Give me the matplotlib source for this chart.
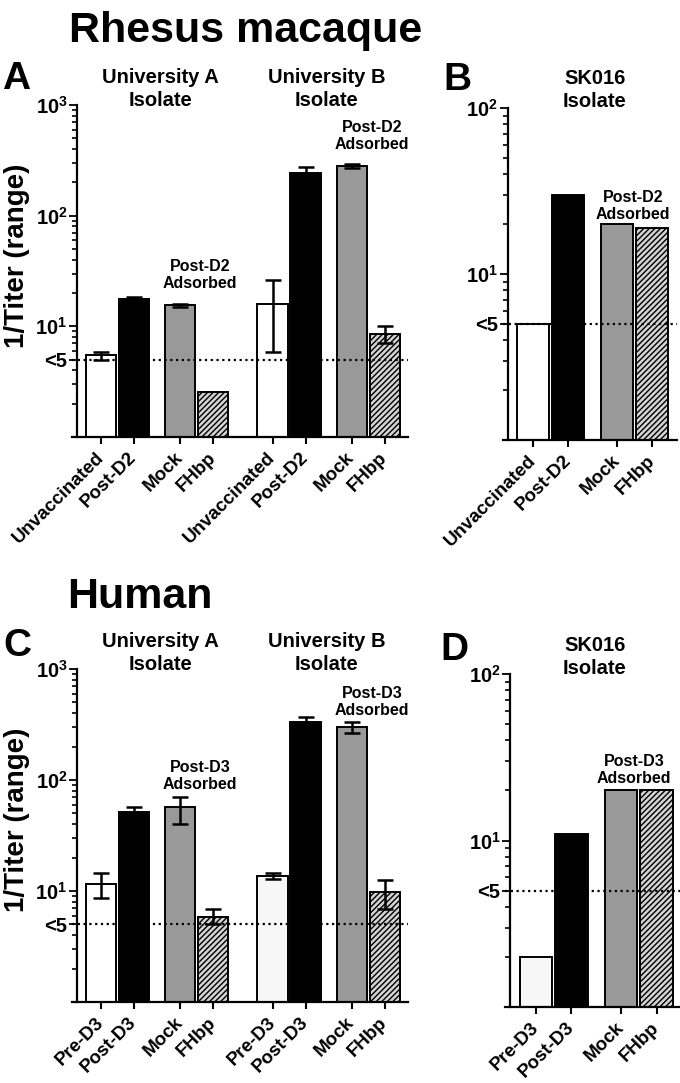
import matplotlib
matplotlib.use("Agg")
import matplotlib.pyplot as plt
import numpy as np
from matplotlib.ticker import FixedLocator, FixedFormatter, LogLocator, NullFormatter

plt.rcParams['font.family'] = ['Liberation Sans', 'DejaVu Sans']
plt.rcParams['font.weight'] = 'bold'
plt.rcParams['mathtext.fontset'] = 'custom'
plt.rcParams['mathtext.bf'] = 'Liberation Sans:bold'
plt.rcParams['mathtext.rm'] = 'Liberation Sans:bold'
plt.rcParams['mathtext.default'] = 'bf'
plt.rcParams['hatch.linewidth'] = 1.0

# ---------------- data ----------------
labels_rhesus = ["Unvaccinated", "Post-D2", "Mock", "FHbp"]
labels_human = ["Pre-D3", "Post-D3", "Mock", "FHbp"]

# Panel A (rhesus) - University A / University B isolates
a_univA = [5.5, 17.5, 15.5, 2.55]
a_univA_lo = [5.0, 16.5, 15.0, np.nan]
a_univA_hi = [5.9, 18.6, 16.0, np.nan]
a_univB = [15.8, 245, 280, 8.5]
a_univB_lo = [5.9, 225, 270, 7.0]
a_univB_hi = [26.0, 276, 290, 10.0]

# Panel B (rhesus) - SK016
b_sk016 = [5.0, 30.0, 20.0, 19.0]

# Panel C (human) - University A / University B isolates
c_univA = [11.6, 52.0, 57.0, 5.8]
c_univA_lo = [8.6, 48.0, 40.0, 5.0]
c_univA_hi = [14.6, 57.5, 71.0, 6.9]
c_univB = [13.7, 330, 300, 9.8]
c_univB_lo = [12.8, 300, 263, 6.9]
c_univB_hi = [14.6, 368, 331, 12.6]

# Panel D (human) - SK016
d_sk016 = [2.0, 11.0, 20.0, 20.0]

# ---------------- styling ----------------
W, H = 680, 1083
fig = plt.figure(figsize=(W / 100, H / 100), dpi=100)

def px_rect(l, r, t, b):
    return [l / W, 1 - b / H, (r - l) / W, (b - t) / H]

def ftext(x, y, s, **kw):
    fig.text(x / W, 1 - y / H, s, **kw)

fills = ['#ffffff', '#000000', '#999999', '#d3d3d3']
hatches = [None, None, None, '//////']
in_group = np.array([0.0, 1.0, 2.4, 3.4])
BW = 0.92

def style_axis(ax, ymax, xlim, ticks, ticklabels):
    ax.set_yscale('log')
    ax.set_ylim(1, ymax)
    ax.set_xlim(*xlim)
    for s in ['top', 'right']:
        ax.spines[s].set_visible(False)
    for s in ['left', 'bottom']:
        ax.spines[s].set_linewidth(1.6)
    ax.spines['left'].set_position(('data', -0.72))
    n = int(round(np.log10(ymax)))
    majors = [5] + [10 ** k for k in range(1, n + 1)]
    mlabels = ['<5'] + ['10$^{%d}$' % k for k in range(1, n + 1)]
    ax.yaxis.set_major_locator(FixedLocator(majors))
    ax.yaxis.set_major_formatter(FixedFormatter(mlabels))
    ax.yaxis.set_minor_locator(LogLocator(base=10, subs=np.arange(2, 10)))
    ax.yaxis.set_minor_formatter(NullFormatter())
    ax.tick_params(axis='y', which='major', length=6, width=1.3, labelsize=14.5, pad=1)
    ax.tick_params(axis='y', which='minor', length=3.5, width=1.2)
    ax.set_xticks(ticks)
    ax.set_xticklabels(ticklabels, rotation=45, ha='right', va='center',
                       rotation_mode='anchor', fontsize=13.5, fontweight='bold')
    ax.tick_params(axis='x', length=5, width=1.5, pad=8)
    for lab in ax.get_yticklabels():
        lab.set_fontweight('bold')
    ax.axhline(5, color='black', lw=1.6, ls=(0, (1, 1.6)), zorder=4)

def draw_group(ax, x0, vals, lo=None, hi=None, pale_first=False):
    xs = x0 + in_group
    v = np.array(vals, float)
    for i in range(len(xs)):
        fc = fills[i]
        if i == 0 and pale_first:
            fc = '#f7f7f7'
        ax.bar(xs[i], v[i] - 1, width=BW, bottom=1, color=fc, edgecolor='black',
               linewidth=1.4, hatch=hatches[i], zorder=2)
    if lo is not None:
        l = np.array(lo, float)
        h = np.array(hi, float)
        ok = ~np.isnan(l)
        ax.errorbar(xs[ok], v[ok], yerr=[v[ok] - l[ok], h[ok] - v[ok]], fmt='none',
                    ecolor='black', elinewidth=1.8, capsize=6, capthick=1.8, zorder=5)
    return list(xs)

# ---- Panel A ----
axA = fig.add_axes(px_rect(72, 408, 105, 437))
tA = draw_group(axA, 0.0, a_univA, a_univA_lo, a_univA_hi)
tA += draw_group(axA, 5.2, a_univB, a_univB_lo, a_univB_hi)
style_axis(axA, 1000, (-0.88, 9.3), tA, labels_rhesus * 2)

# ---- Panel B ----
axB = fig.add_axes(px_rect(503, 677, 108, 440))
tB = draw_group(axB, 0.0, b_sk016)
style_axis(axB, 100, (-0.86, 4.11), tB, labels_rhesus)

# ---- Panel C ----
axC = fig.add_axes(px_rect(72, 408, 669, 1002))
tC = draw_group(axC, 0.0, c_univA, c_univA_lo, c_univA_hi)
tC += draw_group(axC, 5.2, c_univB, c_univB_lo, c_univB_hi, pale_first=True)
style_axis(axC, 1000, (-0.88, 9.3), tC, labels_human * 2)

# ---- Panel D ----
axD = fig.add_axes(px_rect(505, 680, 674, 1007))
tD = draw_group(axD, 0.0, d_sk016, pale_first=True)
style_axis(axD, 100, (-0.87, 4.06), tD, labels_human)

# ---- Texts ----
ftext(246, 42, "Rhesus macaque", fontsize=31, fontweight='bold', ha='center', va='baseline')
ftext(140, 608, "Human", fontsize=31, fontweight='bold', ha='center', va='baseline')

for letter, x, y in [("A", 2, 89), ("B", 443, 90), ("C", 3, 656), ("D", 440, 660)]:
    ftext(x, y, letter, fontsize=28, fontweight='bold', ha='left', va='baseline')

for yoff in [0, 564]:
    ftext(160, 83 + yoff, "University A", fontsize=14.5, fontweight='bold', ha='center', va='baseline')
    ftext(160, 106 + yoff, "Isolate", fontsize=14.5, fontweight='bold', ha='center', va='baseline')
    ftext(327, 83 + yoff, "University B", fontsize=14.5, fontweight='bold', ha='center', va='baseline')
    ftext(327, 106 + yoff, "Isolate", fontsize=14.5, fontweight='bold', ha='center', va='baseline')
ftext(595, 84, "SK016", fontsize=14.5, fontweight='bold', ha='center', va='baseline')
ftext(595, 107, "Isolate", fontsize=14.5, fontweight='bold', ha='center', va='baseline')
ftext(595, 651, "SK016", fontsize=14.5, fontweight='bold', ha='center', va='baseline')
ftext(595, 674, "Isolate", fontsize=14.5, fontweight='bold', ha='center', va='baseline')

for x, y, tag in [(200, 271, "Post-D2"), (372, 132, "Post-D2"), (633, 202, "Post-D2"),
                  (200, 772, "Post-D3"), (372, 698, "Post-D3"), (634, 766, "Post-D3")]:
    ftext(x, y, tag, fontsize=11.5, fontweight='bold', ha='center', va='baseline')
    ftext(x, y + 17, "Adsorbed", fontsize=11.5, fontweight='bold', ha='center', va='baseline')

ftext(17, 256, "1/Titer (range)", fontsize=20, fontweight='bold', rotation=90, ha='center', va='center')
ftext(17, 820, "1/Titer (range)", fontsize=20, fontweight='bold', rotation=90, ha='center', va='center')

fig.savefig("out.png", dpi=100)
